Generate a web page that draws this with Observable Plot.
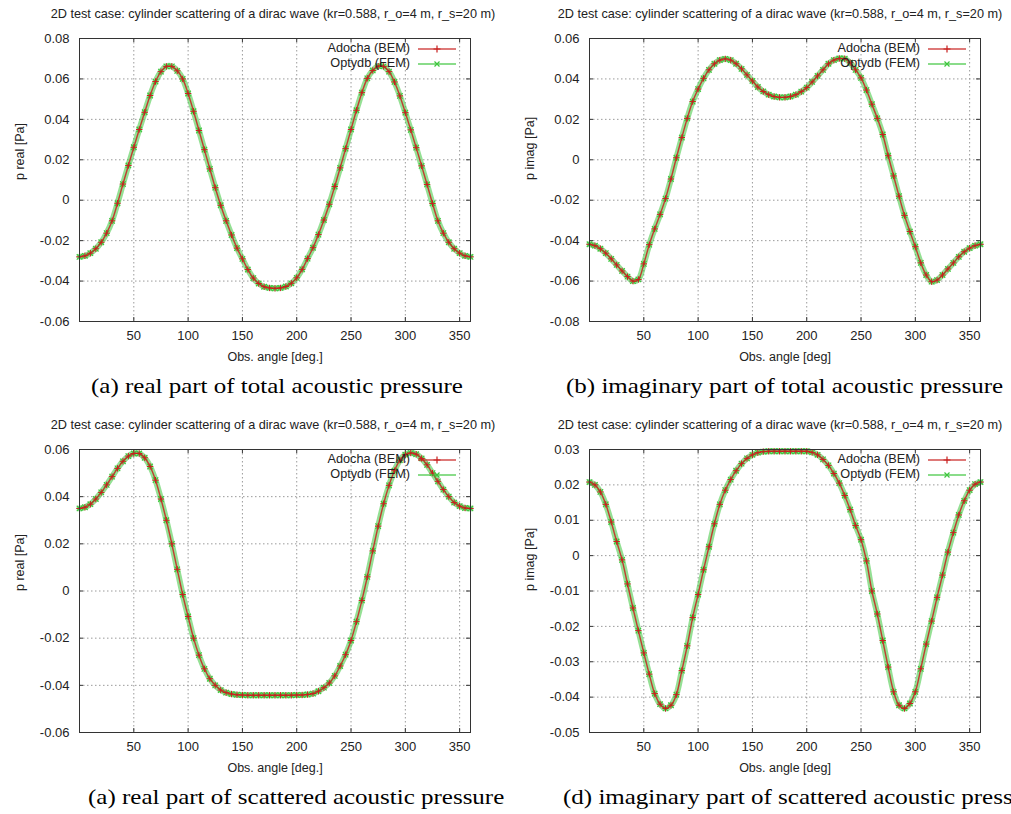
<!DOCTYPE html>
<html>
<head>
<meta charset="utf-8">
<script src="https://cdn.jsdelivr.net/npm/d3@7"></script>
<script src="https://cdn.jsdelivr.net/npm/@observablehq/plot@0.6"></script>
<style>
  html, body { margin: 0; padding: 0; background: #fff; }
  body { width: 1011px; height: 814px; overflow: hidden; position: relative;
         font-family: "Liberation Sans", Arial, Helvetica, sans-serif; }
  .panel { position: absolute; }
  .title { position: absolute; font-size: 12.7px; color: #222; white-space: nowrap;
           transform: translate(-50%, -50%); }
  .caption { position: absolute; font-family: "Liberation Serif", "Times New Roman", serif;
             font-size: 21px; color: #000; white-space: nowrap;
             transform: translateY(-50%) scaleX(1.19); transform-origin: left center; }
  .legend { position: absolute; font-size: 12.7px; color: #222; line-height: 15px; }
  .legend .row { display: flex; justify-content: flex-end; align-items: center; height: 15px; }
  .legend svg { margin-left: 8px; }
</style>
</head>
<body>
<script>
// Observation angles (degrees) at which both solvers are sampled
const angles = d3.range(0, 361, 5);

// (a) real part of total acoustic pressure [Pa]
const realTotalBEM = [
  -0.0280, -0.0275, -0.0262, -0.0240, -0.0208, -0.0163, -0.0102, -0.0015, 0.0080, 0.0172,
  0.0262, 0.0350, 0.0435, 0.0518, 0.0587, 0.0636, 0.0662, 0.0662, 0.0640, 0.0600,
  0.0528, 0.0440, 0.0345, 0.0250, 0.0155, 0.0062, -0.0025, -0.0102, -0.0172, -0.0237,
  -0.0290, -0.0343, -0.0385, -0.0412, -0.0428, -0.0434, -0.0436, -0.0434, -0.0427, -0.0411,
  -0.0384, -0.0342, -0.0289, -0.0235, -0.0170, -0.0098, -0.0020, 0.0068, 0.0160, 0.0255,
  0.0350, 0.0445, 0.0532, 0.0603, 0.0642, 0.0663, 0.0662, 0.0636, 0.0585, 0.0516,
  0.0433, 0.0348, 0.0260, 0.0170, 0.0078, -0.0016, -0.0102, -0.0163, -0.0208, -0.0240,
  -0.0262, -0.0275, -0.0280
];
// (b) imaginary part of total acoustic pressure [Pa]
const imagTotalBEM = [
  -0.0418, -0.0425, -0.0440, -0.0462, -0.0490, -0.0520, -0.0550, -0.0578, -0.0600, -0.0592,
  -0.0515, -0.0420, -0.0342, -0.0270, -0.0192, -0.0095, 0.0010, 0.0110, 0.0205, 0.0288,
  0.0350, 0.0403, 0.0445, 0.0475, 0.0493, 0.0499, 0.0493, 0.0475, 0.0450, 0.0420,
  0.0390, 0.0360, 0.0338, 0.0322, 0.0313, 0.0309, 0.0309, 0.0313, 0.0322, 0.0337,
  0.0357, 0.0385, 0.0415, 0.0445, 0.0475, 0.0493, 0.0501, 0.0500, 0.0480, 0.0445,
  0.0405, 0.0345, 0.0275, 0.0205, 0.0125, 0.0020, -0.0080, -0.0180, -0.0275, -0.0355,
  -0.0430, -0.0510, -0.0570, -0.0603, -0.0595, -0.0570, -0.0540, -0.0510, -0.0480, -0.0455,
  -0.0437, -0.0425, -0.0418
];
// (c) real part of scattered acoustic pressure [Pa]
const realScatBEM = [
  0.0350, 0.0355, 0.0368, 0.0390, 0.0418, 0.0450, 0.0485, 0.0520, 0.0550, 0.0572,
  0.0583, 0.0583, 0.0565, 0.0528, 0.0470, 0.0390, 0.0300, 0.0200, 0.0092, -0.0015,
  -0.0108, -0.0200, -0.0272, -0.0330, -0.0372, -0.0400, -0.0420, -0.0431, -0.0437, -0.0440,
  -0.0441, -0.0442, -0.0442, -0.0442, -0.0442, -0.0442, -0.0442, -0.0442, -0.0442, -0.0442,
  -0.0441, -0.0441, -0.0439, -0.0435, -0.0425, -0.0410, -0.0390, -0.0360, -0.0318, -0.0270,
  -0.0210, -0.0130, -0.0040, 0.0060, 0.0170, 0.0275, 0.0370, 0.0448, 0.0510, 0.0555,
  0.0578, 0.0585, 0.0580, 0.0562, 0.0535, 0.0500, 0.0465, 0.0430, 0.0400, 0.0375,
  0.0360, 0.0352, 0.0350
];
// (d) imaginary part of scattered acoustic pressure [Pa]
const imagScatBEM = [
  0.0208, 0.0200, 0.0180, 0.0145, 0.0095, 0.0040, -0.0012, -0.0080, -0.0148, -0.0212,
  -0.0275, -0.0335, -0.0390, -0.0420, -0.0432, -0.0423, -0.0393, -0.0325, -0.0255, -0.0175,
  -0.0110, -0.0040, 0.0025, 0.0090, 0.0145, 0.0185, 0.0215, 0.0240, 0.0260, 0.0275,
  0.0285, 0.0291, 0.0294, 0.0295, 0.0295, 0.0295, 0.0295, 0.0295, 0.0295, 0.0295,
  0.0295, 0.0292, 0.0285, 0.0272, 0.0255, 0.0232, 0.0205, 0.0170, 0.0130, 0.0085,
  0.0045, -0.0015, -0.0100, -0.0165, -0.0240, -0.0315, -0.0385, -0.0423, -0.0432, -0.0418,
  -0.0385, -0.0320, -0.0250, -0.0185, -0.0118, -0.0055, 0.0010, 0.0065, 0.0115, 0.0155,
  0.0185, 0.0202, 0.0208
];
// The FEM solution coincides with the BEM one to plotting accuracy
const realTotalFEM = realTotalBEM;
const imagTotalFEM = imagTotalBEM;
const realScatFEM = realScatBEM;
const imagScatFEM = imagScatBEM;

// Axis ticks
const xTicks = [50, 100, 150, 200, 250, 300, 350];
const yTicksRealTotal = [-0.06, -0.04, -0.02, 0, 0.02, 0.04, 0.06, 0.08];
const yTicksImagTotal = [-0.08, -0.06, -0.04, -0.02, 0, 0.02, 0.04, 0.06];
const yTicksRealScat = [-0.06, -0.04, -0.02, 0, 0.02, 0.04, 0.06];
const yTicksImagScat = [-0.05, -0.04, -0.03, -0.02, -0.01, 0, 0.01, 0.02, 0.03];

// Texts
const plotTitle = "2D test case: cylinder scattering of a dirac wave (kr=0.588, r_o=4 m, r_s=20 m)";
const seriesNames = ["Adocha (BEM)", "Optydb (FEM)"];
const colors = { bem: "#c8201e", fem: "#3cc63c" };

const panels = [
  { left: 0, top: 0, width: 505, marginLeft: 79, marginRight: 35,
    bem: realTotalBEM, fem: realTotalFEM, yTicks: yTicksRealTotal,
    yLabel: "p real [Pa]", xLabel: "Obs. angle [deg.]",
    caption: "(a) real part of total acoustic pressure", titleX: 273, captionX: 91 },
  { left: 505, top: 0, width: 506, marginLeft: 84, marginRight: 31,
    bem: imagTotalBEM, fem: imagTotalFEM, yTicks: yTicksImagTotal,
    yLabel: "p imag [Pa]", xLabel: "Obs. angle [deg]",
    caption: "(b) imaginary part of total acoustic pressure", titleX: 780, captionX: 566 },
  { left: 0, top: 411, width: 505, marginLeft: 79, marginRight: 35,
    bem: realScatBEM, fem: realScatFEM, yTicks: yTicksRealScat,
    yLabel: "p real [Pa]", xLabel: "Obs. angle [deg.]",
    caption: "(a) real part of scattered acoustic pressure", titleX: 273, captionX: 88 },
  { left: 505, top: 411, width: 506, marginLeft: 84, marginRight: 31,
    bem: imagScatBEM, fem: imagScatFEM, yTicks: yTicksImagScat,
    yLabel: "p imag [Pa]", xLabel: "Obs. angle [deg]",
    caption: "(d) imaginary part of scattered acoustic pressure", titleX: 780, captionX: 563 }
];

const H = 372, MT = 38, MB = 51;
const fmt = d => String(+d.toFixed(2));
const grid = { stroke: "#9a9a9a", strokeOpacity: 1, strokeDasharray: "1.5,2.5" };

function legendSwatch(color, symbol) {
  const m = symbol === "plus"
    ? `<path d="M19,1.5V8.5M15.5,5H22.5" stroke="${color}" stroke-width="1.2"/>`
    : `<path d="M16.5,2.5L21.5,7.5M21.5,2.5L16.5,7.5" stroke="${color}" stroke-width="1.2"/>`;
  return `<svg width="38" height="10"><line x1="0" x2="38" y1="5" y2="5" stroke="${color}" stroke-width="1.6" stroke-opacity="0.8"/>${m}</svg>`;
}

for (const p of panels) {
  const rows = angles.map((a, i) => ({ angle: a, bem: p.bem[i], fem: p.fem[i] }));
  const plotW = p.width - p.marginLeft - p.marginRight;
  const plotH = H - MT - MB;
  const yDomain = d3.extent(p.yTicks);

  const chart = Plot.plot({
    width: p.width, height: H,
    marginTop: MT, marginBottom: MB, marginLeft: p.marginLeft, marginRight: p.marginRight,
    style: { fontFamily: "'Liberation Sans', Arial, sans-serif", fontSize: "13px", color: "#222", background: "transparent" },
    x: { domain: [0, 360], axis: null },
    y: { domain: yDomain, axis: null },
    marks: [
      Plot.gridX(xTicks, grid),
      Plot.gridY(p.yTicks.slice(1, -1), grid),
      // inward tick marks on all four sides
      Plot.ruleX(xTicks, { insetTop: plotH - 4, stroke: "#333" }),
      Plot.ruleX(xTicks, { insetBottom: plotH - 4, stroke: "#333" }),
      Plot.ruleY(p.yTicks, { insetRight: plotW - 4, stroke: "#333" }),
      Plot.ruleY(p.yTicks, { insetLeft: plotW - 4, stroke: "#333" }),
      Plot.axisX({ ticks: xTicks, tickSize: 0, tickPadding: 9, tickFormat: d => String(d), label: null }),
      Plot.axisY({ ticks: p.yTicks, tickSize: 0, tickPadding: 10, tickFormat: fmt, label: null }),
      Plot.text([p.xLabel], { frameAnchor: "bottom", dy: 39, fontSize: 12.5 }),
      Plot.text([p.yLabel], { frameAnchor: "left", dx: -60, rotate: -90, fontSize: 12.5 }),
      // FEM: green line with × markers, BEM: red line with + markers
      Plot.line(rows, { x: "angle", y: "fem", stroke: colors.fem, strokeWidth: 6, strokeOpacity: 0.55, curve: "catmull-rom" }),
      Plot.dot(rows, { x: "angle", y: "fem", symbol: "times", r: 2.6, stroke: colors.fem, strokeWidth: 1.2 }),
      Plot.line(rows, { x: "angle", y: "bem", stroke: colors.bem, strokeWidth: 1.4, strokeOpacity: 0.85, curve: "catmull-rom" }),
      Plot.dot(rows, { x: "angle", y: "bem", symbol: "plus", r: 2.2, stroke: colors.bem, strokeWidth: 1 }),
      Plot.frame({ stroke: "#333" })
    ]
  });

  const wrap = document.createElement("div");
  wrap.className = "panel";
  wrap.style.left = p.left + "px";
  wrap.style.top = p.top + "px";
  wrap.appendChild(chart);
  document.body.appendChild(wrap);

  const title = document.createElement("div");
  title.className = "title";
  title.textContent = plotTitle;
  title.style.left = p.titleX + "px";
  title.style.top = (p.top + 14) + "px";
  document.body.appendChild(title);

  const cap = document.createElement("div");
  cap.className = "caption";
  cap.textContent = p.caption;
  cap.style.left = p.captionX + "px";
  cap.style.top = (p.top + 386) + "px";
  document.body.appendChild(cap);

  const legend = document.createElement("div");
  legend.className = "legend";
  legend.style.right = (1011 - (p.left + p.width - p.marginRight) + 14) + "px";
  legend.style.top = (p.top + MT + 3) + "px";
  legend.innerHTML =
    `<div class="row"><span>${seriesNames[0]}</span>${legendSwatch(colors.bem, "plus")}</div>` +
    `<div class="row"><span>${seriesNames[1]}</span>${legendSwatch(colors.fem, "times")}</div>`;
  document.body.appendChild(legend);
}
</script>
</body>
</html>
